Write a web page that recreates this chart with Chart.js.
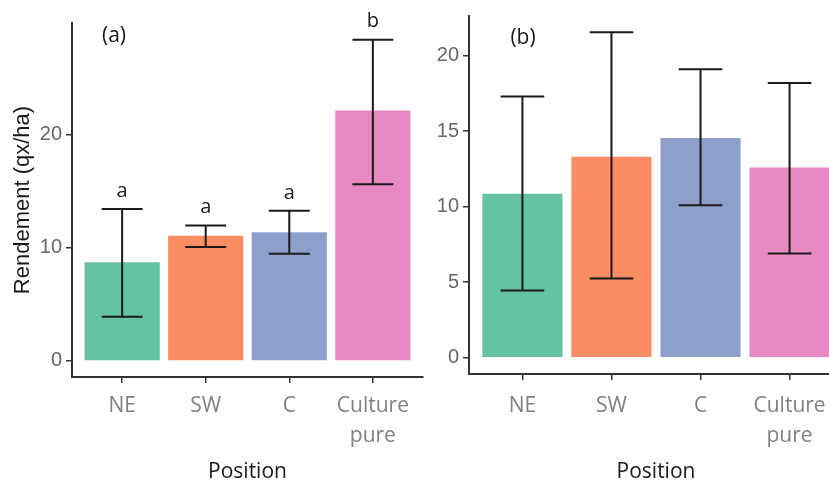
<!DOCTYPE html>
<html>
<head>
<meta charset="utf-8">
<script src="https://cdn.jsdelivr.net/npm/chart.js@4.4.1/dist/chart.umd.min.js"></script>
<style>
  html, body { margin: 0; padding: 0; background: #fff; overflow: hidden; }
  #wrap { position: relative; width: 829px; height: 483px; overflow: hidden; }
  canvas { position: absolute; top: 0; }
  #chartA { left: 0; }
  #chartB { left: 420px; }
</style>
</head>
<body>
<div id="wrap">
  <canvas id="chartA" width="424" height="483"></canvas>
  <canvas id="chartB" width="423" height="483"></canvas>
</div>
<script>
// categories shared by both panels
const categories = ['NE', 'SW', 'C', ['Culture', 'pure']];
const barColors = ['#66c2a5', '#fc8d62', '#8da0cb', '#e78ac3'];

// panel (a)
const meansA = [8.7, 11.05, 11.35, 22.1];
const lowA = [3.9, 10.05, 9.45, 15.6];
const highA = [13.4, 11.95, 13.25, 28.35];
const lettersA = ['a', 'a', 'a', 'b'];
const yTicksA = [0, 10, 20];
const yRangeA = [-1.42, 29.83];

// panel (b)
const meansB = [10.85, 13.3, 14.55, 12.6];
const lowB = [4.45, 5.25, 10.1, 6.9];
const highB = [17.3, 21.55, 19.1, 18.2];
const yTicksB = [0, 5, 10, 15, 20];
const yRangeB = [-1.08, 22.63];

const AXIS_COLOR = '#333';

// error bars, significance letters and the panel tag
const errorBarsPlugin = {
    id: 'errorBars',
    afterDatasetsDraw(chart, args, opts) {
        const { ctx, chartArea } = chart;
        const xs = chart.scales.x;
        const ys = chart.scales.y;
        const half = (xs.getPixelForValue(2) - xs.getPixelForValue(1)) * 0.245;

        ctx.save();
        ctx.strokeStyle = '#1a1a1a';
        ctx.lineWidth = 2;
        opts.low.forEach((lo, i) => {
            const px = xs.getPixelForValue(i + 1);
            const y1 = ys.getPixelForValue(lo);
            const y2 = ys.getPixelForValue(opts.high[i]);
            ctx.beginPath();
            ctx.moveTo(px, y1); ctx.lineTo(px, y2);
            ctx.moveTo(px - half, y1); ctx.lineTo(px + half, y1);
            ctx.moveTo(px - half, y2); ctx.lineTo(px + half, y2);
            ctx.stroke();
        });

        ctx.fillStyle = '#1a1a1a';
        ctx.textAlign = 'center';
        ctx.textBaseline = 'middle';
        if (opts.letters) {
            ctx.font = '20px "Open Sans"';
            opts.letters.forEach((txt, i) => {
                const px = xs.getPixelForValue(i + 1);
                const py = ys.getPixelForValue(opts.high[i]) - 18;
                ctx.fillText(txt, px, py);
            });
        }

        ctx.font = '21px "Open Sans"';
        ctx.fillText(opts.tag, chartArea.left + opts.tagDx, chartArea.top + opts.tagDy);
        ctx.restore();
    }
};

function buildPanel(canvasId, cfg) {
    const ctx = document.getElementById(canvasId).getContext('2d');
    return new Chart(ctx, {
        type: 'bar',
        data: {
            datasets: [{
                data: cfg.means.map((v, i) => ({ x: i + 1, y: v })),
                backgroundColor: barColors,
                borderWidth: 0,
                barPercentage: 0.9,
                categoryPercentage: 1
            }]
        },
        plugins: [errorBarsPlugin],
        options: {
            responsive: false,
            animation: false,
            layout: { padding: cfg.padding },
            scales: {
                x: {
                    type: 'linear',
                    offset: false,
                    min: 0.4,
                    max: 4.6,
                    afterBuildTicks: s => { s.ticks = categories.map((c, i) => ({ value: i + 1 })); },
                    afterFit: s => { s.height = cfg.xHeight; },
                    border: { display: true, color: AXIS_COLOR, width: 2 },
                    grid: { display: true, offset: false, drawOnChartArea: false, drawTicks: true, tickLength: 6, color: AXIS_COLOR, lineWidth: 1.5 },
                    ticks: {
                        autoSkip: false,
                        maxRotation: 0,
                        padding: cfg.xTickPad,
                        color: '#808080',
                        font: { family: '"Open Sans"', size: 21, lineHeight: 1.43 },
                        callback: v => categories[v - 1]
                    },
                    title: {
                        display: true,
                        text: 'Position',
                        color: '#1a1a1a',
                        font: { family: '"Open Sans"', size: 21, lineHeight: 1 },
                        padding: { top: 0, bottom: 0 }
                    }
                },
                y: {
                    min: cfg.yRange[0],
                    max: cfg.yRange[1],
                    afterBuildTicks: s => { s.ticks = cfg.yTicks.map(v => ({ value: v })); },
                    afterFit: s => { s.width = cfg.yWidth; },
                    border: { display: true, color: AXIS_COLOR, width: 2 },
                    grid: { display: true, drawOnChartArea: false, drawTicks: true, tickLength: 6, color: AXIS_COLOR, lineWidth: 1.5 },
                    ticks: {
                        padding: 4,
                        color: '#666',
                        font: { family: '"Liberation Sans", Arial', size: 20 }
                    },
                    title: {
                        display: !!cfg.yTitle,
                        text: cfg.yTitle || '',
                        color: '#1a1a1a',
                        font: { family: '"Liberation Sans", Arial', size: 22 },
                        padding: { top: 10, bottom: 0 }
                    }
                }
            },
            plugins: {
                legend: { display: false },
                tooltip: { enabled: false },
                errorBars: cfg.bars
            }
        }
    });
}

buildPanel('chartA', {
    means: meansA,
    yTicks: yTicksA,
    yRange: yRangeA,
    yTitle: 'Rendement (qx/ha)',
    yWidth: 72,
    xHeight: 106,
    xTickPad: 8,
    padding: { top: 23, right: 1, left: 0, bottom: 0 },
    bars: { low: lowA, high: highA, letters: lettersA, tag: '(a)', tagDx: 42, tagDy: 13 }
});

buildPanel('chartB', {
    means: meansB,
    yTicks: yTicksB,
    yRange: yRangeB,
    yTitle: null,
    yWidth: 49,
    xHeight: 109,
    xTickPad: 11,
    padding: { top: 14, right: 0, left: 0, bottom: 0 },
    bars: { low: lowB, high: highB, letters: null, tag: '(b)', tagDx: 54, tagDy: 22 }
});
</script>
</body>
</html>
